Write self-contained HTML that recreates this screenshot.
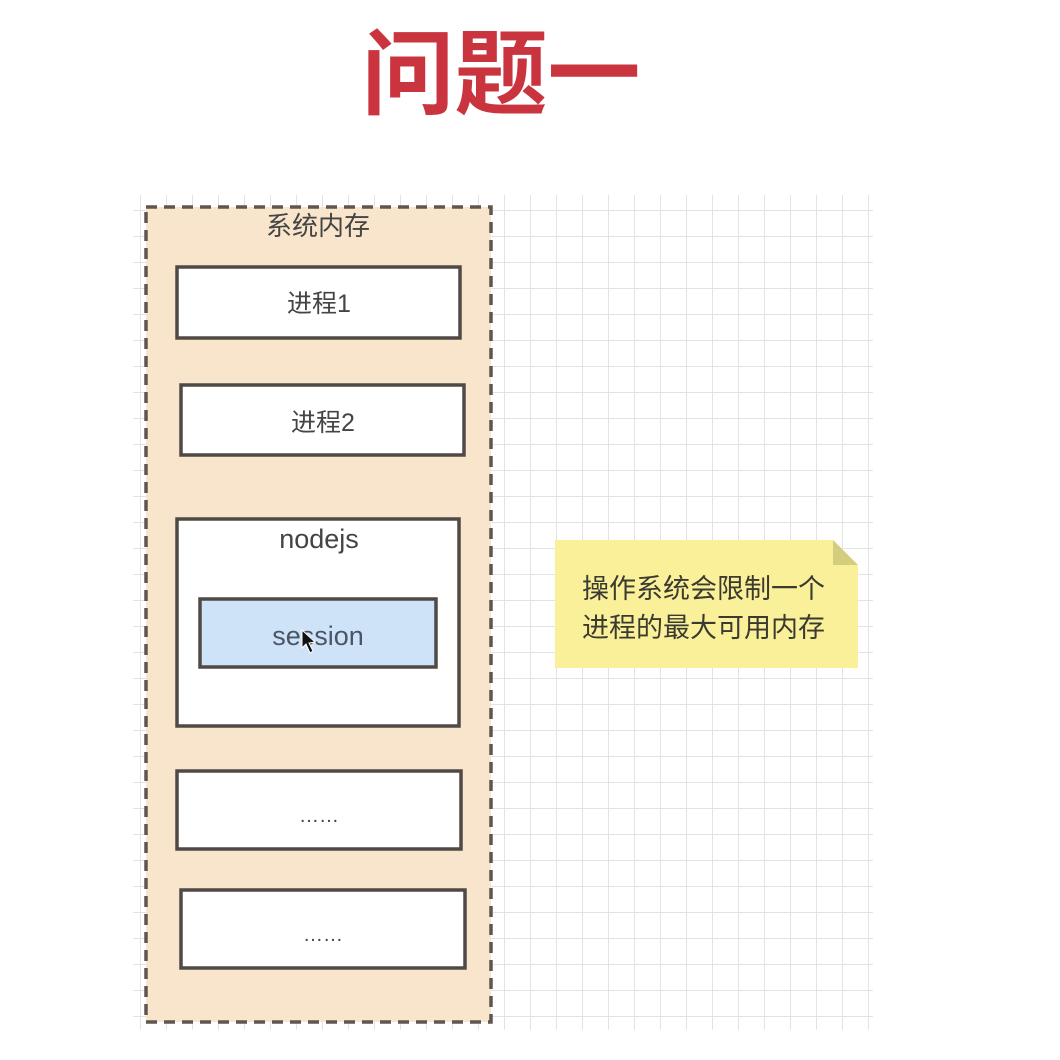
<!DOCTYPE html>
<html><head><meta charset="utf-8"><style>
html,body{margin:0;padding:0;background:#fff;}
svg{display:block;}
</style></head><body>
<svg width="1060" height="1060" viewBox="0 0 1060 1060" xmlns="http://www.w3.org/2000/svg">
<defs>
<pattern id="g" x="10" y="2" width="26" height="26" patternUnits="userSpaceOnUse">
<path d="M0 0.5H26M0.5 0V26" stroke="#e3e3e3" stroke-width="1" fill="none"/>
</pattern>
</defs>
<rect x="133" y="195" width="740" height="835" fill="url(#g)"/>
<text x="501" y="107" text-anchor="middle" font-family="'Noto Sans CJK SC',sans-serif" font-weight="bold" font-size="93" fill="#c9343f">问题一</text>
<rect x="146" y="207" width="345" height="815" fill="#f9e5cb" stroke="#5f574f" stroke-width="3.5" stroke-dasharray="11,7"/>
<text x="318" y="235" text-anchor="middle" font-family="'Liberation Sans','Noto Sans CJK SC',sans-serif" font-size="26" fill="#444">系统内存</text>
<g stroke="#4f4a45" stroke-width="3.5" fill="#fff">
<rect x="177" y="267" width="283" height="71"/>
<rect x="181" y="385" width="283" height="70"/>
<rect x="177" y="519" width="282" height="207"/>
<rect x="177" y="771" width="284" height="78"/>
<rect x="181" y="890" width="284" height="78"/>
<rect x="200" y="599" width="236" height="68" fill="#cfe3f8"/>
</g>
<g font-family="'Liberation Sans','Noto Sans CJK SC',sans-serif" font-size="25" fill="#444" text-anchor="middle">
<text x="319" y="312">进程1</text>
<text x="323" y="431">进程2</text>
<text x="319" y="548" font-size="27">nodejs</text>
<text x="318" y="645" font-size="27" fill="#4a5565">session</text>
<text x="319" y="822" font-size="20">……</text>
<text x="323" y="941" font-size="20">……</text>
</g>
<path d="M302 630 L302 648 L306 644 L310 653 L313 651 L309 643 L315 642 Z" fill="#111" stroke="#fff" stroke-width="1"/>
<path d="M555 540 H833 L858 565 V668 H555 Z" fill="#fbf09a"/>
<path d="M833 540 L858 565 H833 Z" fill="#d3cd7d"/>
<g font-family="'Liberation Sans','Noto Sans CJK SC',sans-serif" font-size="27" fill="#3a3a30">
<text x="582" y="598">操作系统会限制一个</text>
<text x="582" y="637">进程的最大可用内存</text>
</g>
</svg>
</body></html>
